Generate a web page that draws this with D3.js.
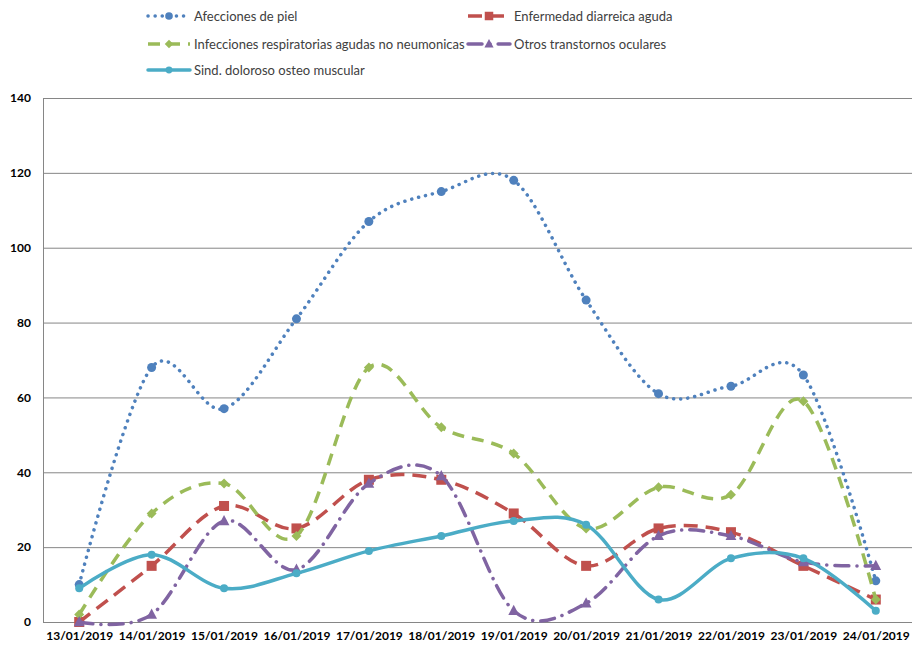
<!DOCTYPE html>
<html>
<head>
<meta charset="utf-8">
<script src="https://cdn.jsdelivr.net/npm/d3@7"></script>
<style>
  body { margin: 0; background: #fff; }
  svg { display: block; }
  .axis text { font-family: Lato, "Open Sans", sans-serif; font-weight: bold; font-size: 12px; fill: #000; }
  .legend text { font-family: Lato, "Open Sans", sans-serif; font-size: 13px; fill: #404040; }
</style>
</head>
<body>
<svg id="chart" width="912" height="647"></svg>
<script>
var dates = ["13/01/2019", "14/01/2019", "15/01/2019", "16/01/2019", "17/01/2019", "18/01/2019",
             "19/01/2019", "20/01/2019", "21/01/2019", "22/01/2019", "23/01/2019", "24/01/2019"];
var yTicks = [0, 20, 40, 60, 80, 100, 120, 140];

var afeccionesPiel = [10, 68, 57, 81, 107, 115, 118, 86, 61, 63, 66, 11];
var diarreica      = [0, 15, 31, 25, 38, 38, 29, 15, 25, 24, 15, 6];
var respiratorias  = [2, 29, 37, 23, 68, 52, 45, 25, 36, 34, 59, 6];
var oculares       = [0, 2, 27, 14, 37, 39, 3, 5, 23, 23, 16, 15];
var osteoMuscular  = [9, 18, 9, 13, 19, 23, 27, 26, 6, 17, 17, 3];

var series = [
  {name: "Afecciones de piel", values: afeccionesPiel, color: "#4f81bd", dash: "0.1 7", cap: "round", marker: "circle", size: 4.5},
  {name: "Enfermedad diarreica aguda", values: diarreica, color: "#c0504d", dash: "14 8", cap: "butt", marker: "square", size: 5},
  {name: "Infecciones respiratorias agudas no neumonicas", values: respiratorias, color: "#9bbb59", dash: "12 8", cap: "butt", marker: "diamond", size: 5},
  {name: "Otros transtornos oculares", values: oculares, color: "#8064a2", dash: "14 8 0.1 8", cap: "round", marker: "triangle", size: 6},
  {name: "Sind. doloroso osteo muscular", values: osteoMuscular, color: "#4bacc6", dash: null, cap: "round", marker: "circle", size: 4}
];

var svg = d3.select("#chart"),
    margin = {top: 98, right: 0, bottom: 25, left: 43},
    width = +svg.attr("width") - margin.left - margin.right,
    height = +svg.attr("height") - margin.top - margin.bottom;

var x = d3.scalePoint().domain(dates).range([0, width]).padding(0.5);
var y = d3.scaleLinear().domain([0, 140]).range([height, 0]);

var g = svg.append("g")
    .attr("transform", "translate(" + margin.left + "," + margin.top + ")");

// gridlines
g.append("g")
    .selectAll("line")
    .data(yTicks)
  .enter().append("line")
    .attr("x1", 0).attr("x2", width)
    .attr("y1", function(d) { return y(d) + 0.5; })
    .attr("y2", function(d) { return y(d) + 0.5; })
    .attr("stroke", "#868686");

g.append("line")
    .attr("x1", 0.5).attr("x2", 0.5)
    .attr("y1", 0).attr("y2", height)
    .attr("stroke", "#868686");

var yAxis = g.append("g")
    .attr("class", "axis")
    .call(d3.axisLeft(y).tickValues(yTicks).tickSize(0).tickPadding(12));
yAxis.select(".domain").remove();

var xAxis = g.append("g")
    .attr("class", "axis")
    .attr("transform", "translate(0," + height + ")")
    .call(d3.axisBottom(x).tickSize(0).tickPadding(9));
xAxis.select(".domain").remove();

var line = d3.line()
    .x(function(d, i) { return x(dates[i]); })
    .y(function(d) { return y(d); })
    .curve(d3.curveCardinal.tension(0));

function drawMarker(sel, s, cx, cy, r) {
  if (s.marker === "circle") {
    sel.append("circle").attr("cx", cx).attr("cy", cy).attr("r", r).attr("fill", s.color);
  } else if (s.marker === "square") {
    sel.append("rect").attr("x", cx - r).attr("y", cy - r).attr("width", 2 * r).attr("height", 2 * r).attr("fill", s.color);
  } else if (s.marker === "diamond") {
    sel.append("path").attr("d", "M" + cx + "," + (cy - r) + "L" + (cx + r) + "," + cy + "L" + cx + "," + (cy + r) + "L" + (cx - r) + "," + cy + "Z").attr("fill", s.color);
  } else {
    sel.append("path").attr("d", "M" + cx + "," + (cy - r) + "L" + (cx + r * 0.9) + "," + (cy + r * 0.7) + "L" + (cx - r * 0.9) + "," + (cy + r * 0.7) + "Z").attr("fill", s.color);
  }
}

series.forEach(function(s) {
  var sg = g.append("g");
  sg.append("path")
      .attr("d", line(s.values))
      .attr("fill", "none")
      .attr("stroke", s.color)
      .attr("stroke-width", 3.5)
      .attr("stroke-linecap", s.cap)
      .attr("stroke-dasharray", s.dash);
  s.values.forEach(function(v, i) {
    drawMarker(sg, s, x(dates[i]), y(v), s.size);
  });
});

// legend
var legendPos = [[148, 16], [468, 16], [148, 44], [468, 44], [148, 70]];
var legend = svg.append("g").attr("class", "legend");
series.forEach(function(s, i) {
  var lx = legendPos[i][0], ly = legendPos[i][1];
  var lg = legend.append("g");
  lg.append("line")
      .attr("x1", lx).attr("x2", lx + 42)
      .attr("y1", ly).attr("y2", ly)
      .attr("stroke", s.color)
      .attr("stroke-width", 3.5)
      .attr("stroke-linecap", s.cap)
      .attr("stroke-dasharray", s.dash);
  drawMarker(lg, s, lx + 21, ly, s.size * 0.85);
  lg.append("text")
      .attr("x", lx + 46)
      .attr("y", ly)
      .attr("dy", "0.35em")
      .text(s.name);
});
</script>
</body>
</html>
